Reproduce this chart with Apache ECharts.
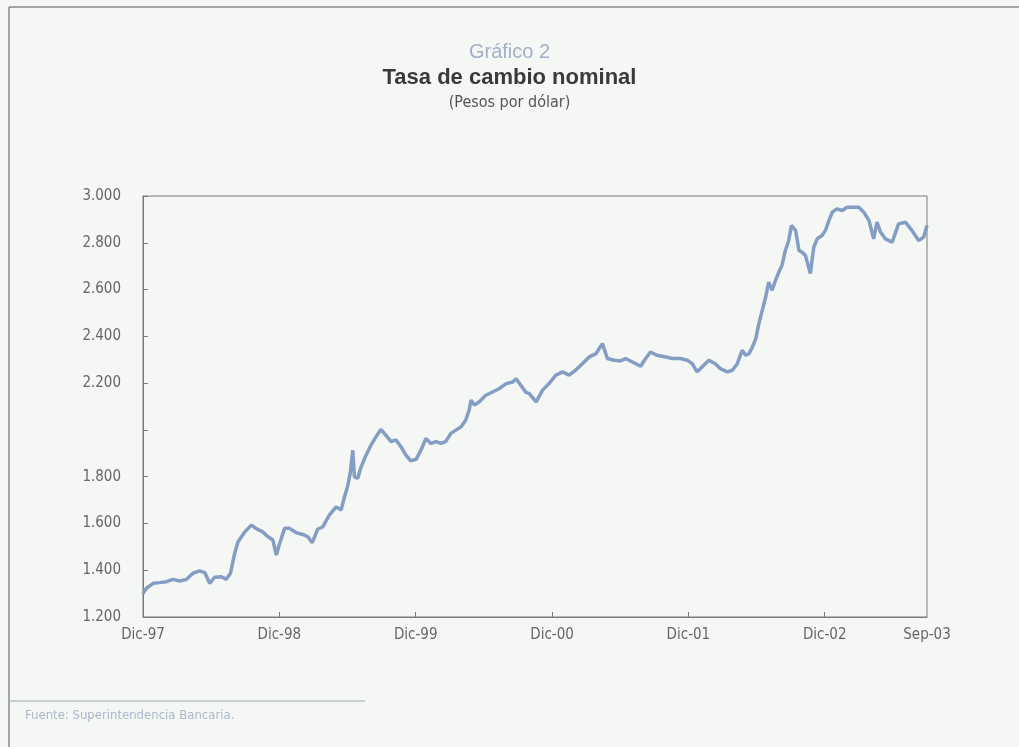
<!DOCTYPE html>
<html>
<head>
<meta charset="utf-8">
<script src="https://cdn.jsdelivr.net/npm/echarts@6/dist/echarts.min.js"></script>
<style>
html,body{margin:0;padding:0;background:#f6f8f6;}
#chart{width:1019px;height:747px;}
</style>
</head>
<body>
<div id="chart"></div>
<script>
// ---- data ----
const dates = [
'1997-12-01','1997-12-10','1997-12-28','1998-01-15','1998-02-03','1998-02-20','1998-03-08','1998-03-26','1998-04-13','1998-04-30',
'1998-05-14','1998-05-27','1998-06-10','1998-06-28','1998-07-11','1998-07-22','1998-08-03','1998-08-12','1998-08-30','1998-09-17',
'1998-09-30','1998-10-17','1998-10-31','1998-11-14','1998-11-23','1998-12-02','1998-12-15','1998-12-28','1999-01-16','1999-02-03',
'1999-02-16','1999-02-28','1999-03-12','1999-03-26','1999-04-13','1999-05-01','1999-05-14','1999-05-23','1999-06-01','1999-06-08',
'1999-06-15','1999-06-19','1999-06-28','1999-07-07','1999-07-20','1999-08-03','1999-08-16','1999-08-29','1999-09-12','1999-09-26',
'1999-10-09','1999-10-22','1999-11-05','1999-11-18','1999-12-02','1999-12-15','1999-12-28','2000-01-11','2000-01-25','2000-02-07',
'2000-02-20','2000-03-04','2000-03-17','2000-03-31','2000-04-13','2000-04-22','2000-04-27','2000-05-06','2000-05-19','2000-06-06',
'2000-06-24','2000-07-12','2000-07-30','2000-08-17','2000-08-26','2000-09-09','2000-09-22','2000-10-01','2000-10-19','2000-11-06',
'2000-11-23','2000-12-11','2000-12-29','2001-01-16','2001-02-03','2001-02-21','2001-03-09','2001-03-27','2001-04-14','2001-04-27',
'2001-05-15','2001-06-02','2001-06-15','2001-07-03','2001-07-25','2001-08-08','2001-08-21','2001-09-08','2001-10-01','2001-10-18',
'2001-11-10','2001-11-28','2001-12-11','2001-12-24','2002-01-07','2002-01-25','2002-02-12','2002-02-25','2002-03-14','2002-03-27',
'2002-04-10','2002-04-23','2002-05-02','2002-05-11','2002-05-20','2002-05-29','2002-06-07','2002-06-16','2002-06-25','2002-07-03',
'2002-07-12','2002-07-21','2002-07-30','2002-08-08','2002-08-17','2002-08-26','2002-09-03','2002-09-14','2002-09-23','2002-10-01',
'2002-10-10','2002-10-23','2002-11-02','2002-11-11','2002-11-24','2002-12-03','2002-12-12','2002-12-21','2003-01-03','2003-01-17',
'2003-01-30','2003-02-17','2003-03-01','2003-03-14','2003-03-28','2003-04-10','2003-04-19','2003-04-28','2003-05-11','2003-05-29',
'2003-06-16','2003-07-04','2003-07-21','2003-08-09','2003-08-22','2003-09-01'
];
const tasa = [
1300,1323,1344,1347,1351,1361,1354,1361,1387,1397,
1390,1344,1370,1372,1361,1387,1472,1522,1564,1593,
1578,1564,1543,1529,1465,1515,1579,1579,1560,1553,
1543,1518,1575,1586,1636,1671,1657,1714,1757,1814,
1913,1800,1793,1842,1892,1935,1970,2002,1978,1950,
1957,1928,1892,1868,1874,1914,1963,1942,1950,1942,
1950,1985,1999,2013,2041,2084,2127,2106,2120,2148,
2162,2177,2198,2205,2219,2190,2160,2155,2120,2170,
2198,2234,2248,2234,2255,2283,2312,2326,2369,2305,
2298,2295,2305,2290,2272,2305,2333,2319,2312,2305,
2305,2298,2283,2248,2269,2298,2283,2262,2248,2255,
2283,2340,2319,2326,2354,2390,2454,2511,2568,2632,
2597,2639,2675,2703,2767,2810,2874,2853,2767,2760,
2746,2668,2781,2817,2831,2853,2895,2931,2945,2938,
2952,2952,2952,2931,2895,2817,2888,2846,2817,2803,
2881,2888,2853,2810,2824,2874
];
const xTickPositions = ['1997-12-01','1998-12-01','1999-12-01','2000-12-01','2001-12-01','2002-12-01','2003-09-01'];
const xTickLabels = ['Dic-97','Dic-98','Dic-99','Dic-00','Dic-01','Dic-02','Sep-03'];
const yTickValues = [1200,1400,1600,1800,2000,2200,2400,2600,2800,3000];
const yTickLabels = ['1.200','1.400','1.600','1.800','','2.200','2.400','2.600','2.800','3.000'];

// months elapsed since Dec-97 (axis coordinate)
function monthIndex(s){
  const p = s.split('-').map(Number);
  return (p[0]-1997)*12 + (p[1]-12) + (p[2]-1)/30;
}
const seriesData = dates.map((d,i)=>[monthIndex(d), tasa[i]]);
const xPos = xTickPositions.map(monthIndex);
const labelMap = {};
xPos.forEach((v,i)=>{ labelMap[Math.round(v)] = xTickLabels[i]; });
const yMap = {};
yTickValues.forEach((v,i)=>{ yMap[v] = yTickLabels[i]; });

const narrow = "'Liberation Sans Narrow','DejaVu Sans Condensed','Liberation Sans',sans-serif";
const chart = echarts.init(document.getElementById('chart'), null, {renderer:'canvas'});
chart.setOption({
  backgroundColor:'#f5f7f4',
  animation:false,
  title:[
    {text:'Gráfico 2', left:'center', top:37, textStyle:{fontFamily:'Liberation Sans', fontWeight:'normal', fontSize:20, color:'#9fb1c9'}},
    {text:'Tasa de cambio nominal', left:'center', top:62, textStyle:{fontFamily:'Liberation Sans', fontWeight:'bold', fontSize:22, color:'#3a3a3a'}},
    {text:'(Pesos por dólar)', left:'center', top:90, textStyle:{fontFamily:narrow, fontWeight:'normal', fontSize:16, color:'#555'}}
  ],
  grid:{left:143, right:92, top:196, bottom:130, show:true, borderColor:'#7a7a7a', borderWidth:1, backgroundColor:'transparent'},
  xAxis:{
    type:'value', min:xPos[0], max:xPos[xPos.length-1],
    axisLine:{show:true, lineStyle:{color:'#7a7a7a', width:1}},
    axisTick:{show:true, inside:true, length:5, customValues:xPos.slice(1, xPos.length-1), lineStyle:{color:'#7a7a7a'}},
    axisLabel:{customValues:xPos, formatter:(v)=>labelMap[Math.round(v)]||'', fontFamily:narrow, fontSize:15, color:'#666', margin:11},
    splitLine:{show:false}
  },
  yAxis:{
    type:'value', min:1200, max:3000, interval:200,
    axisLine:{show:true, lineStyle:{color:'#7a7a7a', width:1}},
    axisTick:{show:true, inside:true, length:5, lineStyle:{color:'#7a7a7a'}},
    axisLabel:{formatter:(v)=>yMap[v]!==undefined?yMap[v]:'', fontFamily:narrow, fontSize:15, color:'#666', margin:22},
    splitLine:{show:false}
  },
  series:[{
    type:'line', data:seriesData, showSymbol:false, smooth:false,
    lineStyle:{color:'#839dc4', width:3.5}
  }],
  graphic:[
    {type:'line', shape:{x1:9,y1:7,x2:1019,y2:7}, style:{stroke:'#8a8a8a', lineWidth:1.5}},
    {type:'line', shape:{x1:9,y1:7,x2:9,y2:747}, style:{stroke:'#8a8a8a', lineWidth:1.5}},
    {type:'line', shape:{x1:9,y1:701,x2:365,y2:701}, style:{stroke:'#9aa8b8', lineWidth:1}},
    {type:'text', left:25, top:709, style:{text:'Fuente: Superintendencia Bancaria.', font:"13px "+narrow, fill:'#a9b9cc'}}
  ]
});
</script>
</body>
</html>
